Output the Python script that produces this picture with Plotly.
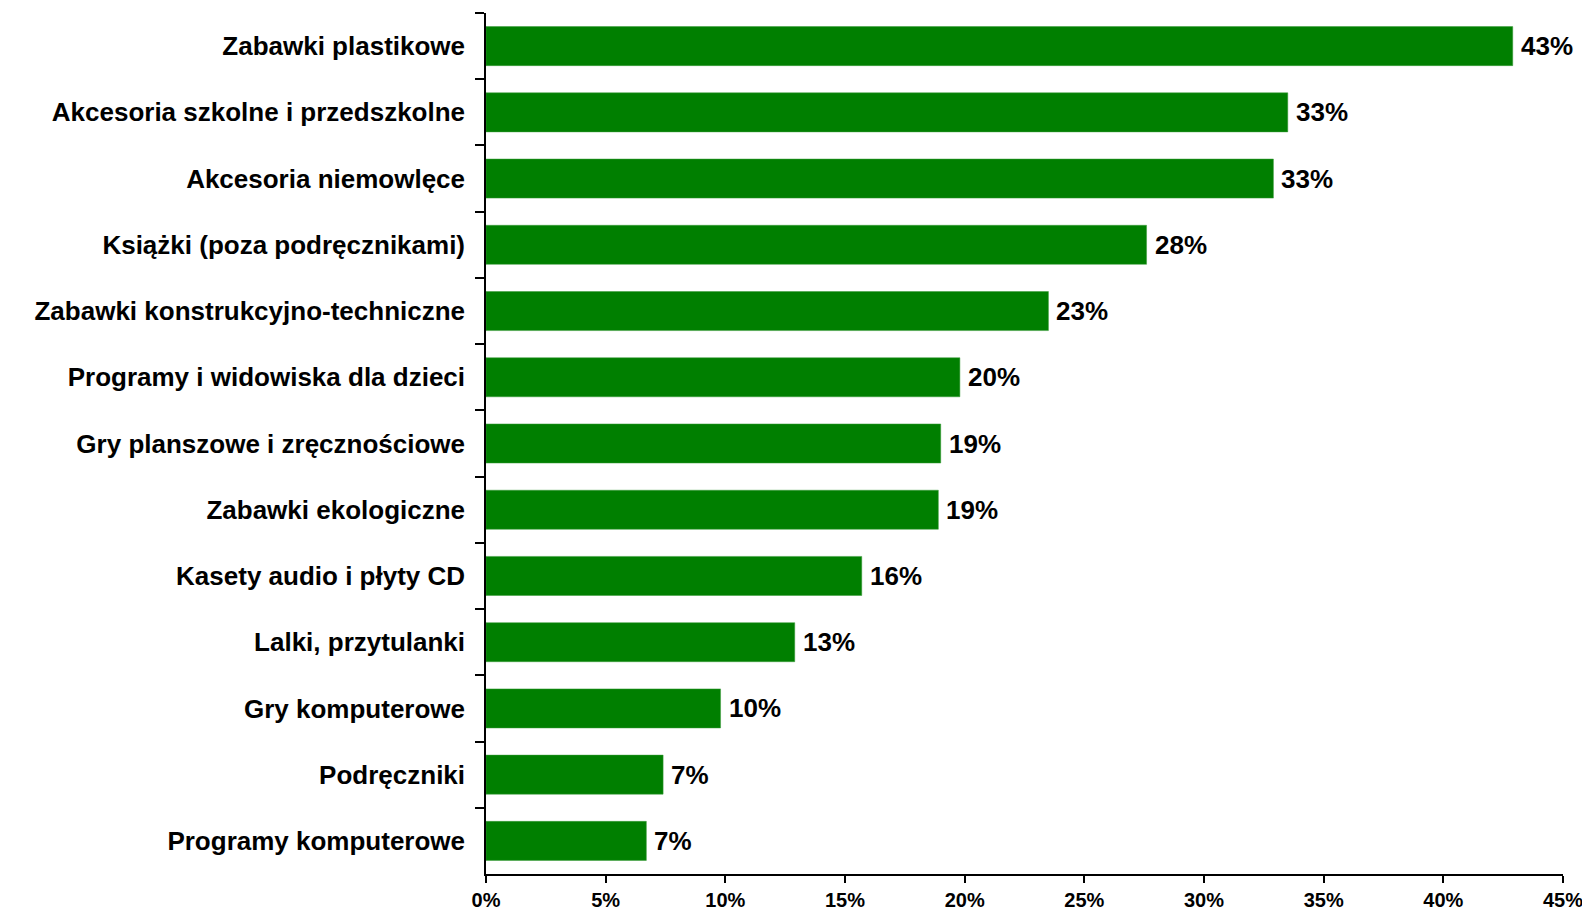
import plotly.graph_objects as go

categories = [
    "Zabawki plastikowe",
    "Akcesoria szkolne i przedszkolne",
    "Akcesoria niemowlęce",
    "Książki (poza podręcznikami)",
    "Zabawki konstrukcyjno-techniczne",
    "Programy i widowiska dla dzieci",
    "Gry planszowe i zręcznościowe",
    "Zabawki ekologiczne",
    "Kasety audio i płyty CD",
    "Lalki, przytulanki",
    "Gry komputerowe",
    "Podręczniki",
    "Programy komputerowe",
]
values = [42.9, 33.5, 32.9, 27.6, 23.5, 19.8, 19.0, 18.9, 15.7, 12.9, 9.8, 7.4, 6.7]
value_labels = ["43%", "33%", "33%", "28%", "23%", "20%", "19%", "19%", "16%", "13%", "10%", "7%", "7%"]
x_ticks = [0, 5, 10, 15, 20, 25, 30, 35, 40, 45]

FONT = "Liberation Sans, Arial, sans-serif"

fig = go.Figure(go.Bar(
    x=values,
    y=categories,
    orientation="h",
    marker=dict(color="#007F00", line=dict(color="#3a9a3a", width=0.5)),
    width=0.59,
    hoverinfo="x+y",
))

for cat, v, lab in zip(categories, values, value_labels):
    fig.add_annotation(
        x=v, y=cat, text=lab, showarrow=False,
        xanchor="left", yanchor="middle", xshift=6,
        font=dict(family=FONT, size=26, color="black", weight="bold"),
    )

fig.update_layout(
    width=1582, height=915,
    margin=dict(l=486, r=19, t=13, b=41, autoexpand=False),
    paper_bgcolor="white", plot_bgcolor="white",
    showlegend=False,
    font=dict(family=FONT, color="black"),
)
fig.update_xaxes(
    range=[0, 45],
    tickvals=x_ticks,
    ticktext=[f"{v}%" for v in x_ticks],
    showgrid=False, zeroline=False,
    showline=True, linecolor="black", linewidth=1.5,
    ticks="outside", ticklen=7, tickcolor="black", tickwidth=1.5,
    automargin=False,
    ticklabeloverflow="allow",
    tickfont=dict(family="Liberation Sans Narrow, Liberation Sans, Arial, sans-serif", size=20, weight="bold"),
)
fig.update_yaxes(
    autorange="reversed",
    showgrid=False,
    showline=True, linecolor="black", linewidth=1.5,
    ticks="outside", ticklen=9, tickcolor="black", tickwidth=1.5,
    tickson="boundaries",
    ticklabelstandoff=14,
    automargin=False,
    tickfont=dict(family=FONT, size=26, weight="bold"),
)

fig.write_html("out.html")
